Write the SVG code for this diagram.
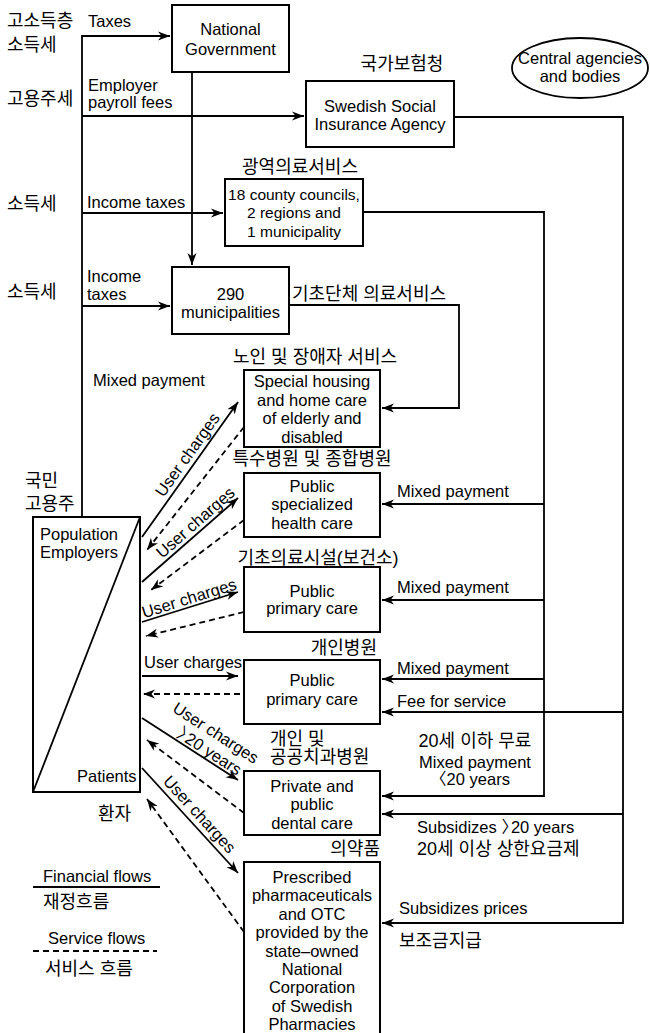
<svg xmlns="http://www.w3.org/2000/svg" width="650" height="1033" viewBox="0 0 650 1033">
<defs>
<marker id="ah" markerUnits="userSpaceOnUse" markerWidth="12" markerHeight="10" viewBox="0 0 12 10" refX="12" refY="5" orient="auto"><path d="M0,0.5 L12,5 L0,9.5 L3.5,5 z" fill="#000"/></marker>
<style>
.box{fill:#fff;stroke:#000;stroke-width:2}
.t{font-family:'Liberation Sans','Noto Sans CJK KR',sans-serif;font-size:16.5px;fill:#000}
.k{font-family:'Liberation Sans','Noto Sans CJK KR',sans-serif;font-size:18px;fill:#000}
.m{text-anchor:middle}
.e{text-anchor:end}
.ln{stroke:#000;stroke-width:1.8;fill:none}
.ar{marker-end:url(#ah)}
.dash{stroke-dasharray:6,4}
</style>
</defs>
<rect width="650" height="1033" fill="#fff"/>

<g id="connectors" class="ln">
<path class="ar" d="M82,517 V36 H170"/>
<path class="ar" d="M82,116 H304"/>
<path class="ar" d="M82,213 H223"/>
<path class="ar" d="M82,306 H170"/>
<path class="ar" d="M192,72 V265"/>
<path class="ar" d="M289,305 H459 V408 H382"/>
<path class="ar" d="M363,212 H544 V796 H382"/>
<path class="ar" d="M544,504 H382"/>
<path class="ar" d="M544,600 H382"/>
<path class="ar" d="M544,679 H382"/>
<path class="ar" d="M454,117 H623 V923 H382"/>
<path class="ar" d="M623,712 H382"/>
<path class="ar" d="M623,814 H382"/>
<path class="ar" d="M142,537 L238,402"/>
<path class="ar" d="M142,582 L238,498"/>
<path class="ar" d="M142,622 L238,592"/>
<path class="ar" d="M142,676 L238,676"/>
<path class="ar" d="M142,718 L238,780"/>
<path class="ar" d="M142,768 L238,873"/>
<path class="ar dash" d="M244,427 L147,550"/>
<path class="ar dash" d="M244,520 L151,590"/>
<path class="ar dash" d="M244,612 L146,636"/>
<path class="ar dash" d="M240,694 L143,694"/>
<path class="ar dash" d="M244,813 L147,740"/>
<path class="ar dash" d="M244,932 L147,799"/>
</g>

<g id="flow-labels">
<text class="k" x="7" y="27">고소득층</text>
<text class="k" x="7" y="51">소득세</text>
<text class="t" x="88" y="27">Taxes</text>
<text class="k" x="7" y="105">고용주세</text>
<text class="t" x="88" y="91">Employer</text>
<text class="t" x="88" y="108">payroll fees</text>
<text class="k" x="7" y="210">소득세</text>
<text class="t" x="87" y="208">Income taxes</text>
<text class="k" x="7" y="298">소득세</text>
<text class="t" x="87" y="282">Income</text>
<text class="t" x="87" y="300">taxes</text>
<text class="t" x="93" y="386">Mixed payment</text>
<text class="t m" transform="translate(192,458) rotate(-54.6)">User charges</text>
<text class="t m" transform="translate(199.1,526.7) rotate(-41.2)">User charges</text>
<text class="t m" transform="translate(190.7,603.6) rotate(-17.4)">User charges</text>
<text class="t" x="144" y="668">User charges</text>
<text class="t m" transform="translate(212.8,737.6) rotate(32.9)">User charges</text>
<text class="t m" transform="translate(206.4,756.1) rotate(32.9)">〉<tspan dx="-7">20 years</tspan></text>
<text class="t m" transform="translate(195.4,818.2) rotate(47.6)">User charges</text>
<text class="t" x="397" y="497">Mixed payment</text>
<text class="t" x="397" y="593">Mixed payment</text>
<text class="t" x="397" y="674">Mixed payment</text>
<text class="t" x="397" y="707">Fee for service</text>
<text class="k m" x="475" y="747">20세 이하 무료</text>
<text class="t m" x="475" y="768">Mixed payment</text>
<text class="t m" x="470" y="785">〈20 years</text>
<text class="t" x="417" y="833">Subsidizes 〉<tspan dx="-7">20 years</tspan></text>
<text class="k" x="417" y="855">20세 이상 상한요금제</text>
<text class="t" x="399" y="914">Subsidizes prices</text>
<text class="k" x="399" y="947">보조금지급</text>
</g>

<g id="national">
<rect class="box" x="172" y="5" width="117" height="67"/>
<text class="t m" x="230.5" y="35">National</text>
<text class="t m" x="230.5" y="55">Government</text>
</g>

<g id="ssia">
<text class="k m" x="402" y="70">국가보험청</text>
<rect class="box" x="306" y="81" width="148" height="66"/>
<text class="t m" x="380" y="112">Swedish Social</text>
<text class="t m" x="380" y="130">Insurance Agency</text>
</g>

<g id="central">
<ellipse cx="580" cy="68" rx="68" ry="30" fill="#fff" stroke="#000" stroke-width="1.8"/>
<text class="t m" x="580" y="64">Central agencies</text>
<text class="t m" x="580" y="82">and bodies</text>
</g>

<g id="county">
<text class="k m" x="300" y="173">광역의료서비스</text>
<rect class="box" x="225" y="179" width="138" height="67"/>
<text class="t m" x="294" y="200" style="font-size:15.5px">18 county councils,</text>
<text class="t m" x="294" y="218" style="font-size:15.5px">2 regions and</text>
<text class="t m" x="294" y="237" style="font-size:15.5px">1 municipality</text>
</g>

<g id="municipalities">
<rect class="box" x="172" y="267" width="117" height="67"/>
<text class="t m" x="230.5" y="300">290</text>
<text class="t m" x="230.5" y="318">municipalities</text>
<text class="k" x="292" y="300">기초단체 의료서비스</text>
</g>

<g id="population">
<rect class="box" x="33" y="517" width="107" height="275"/>
<line x1="33" y1="792" x2="140" y2="517" stroke="#000" stroke-width="1.8"/>
<text class="t" x="40" y="540">Population</text>
<text class="t" x="40" y="558">Employers</text>
<text class="t" x="77" y="782">Patients</text>
<text class="k" x="25" y="487">국민</text>
<text class="k" x="25" y="510">고용주</text>
<text class="k" x="98" y="820">환자</text>
</g>

<g id="elderly">
<text class="k m" x="315" y="363">노인 및 장애자 서비스</text>
<rect class="box" x="244" y="370" width="136" height="77"/>
<text class="t m" x="312" y="387">Special housing</text>
<text class="t m" x="312" y="406">and home care</text>
<text class="t m" x="312" y="424">of elderly and</text>
<text class="t m" x="312" y="443">disabled</text>
</g>

<g id="specialized">
<text class="k m" x="312" y="465">특수병원 및 종합병원</text>
<rect class="box" x="244" y="473" width="136" height="64"/>
<text class="t m" x="312" y="492">Public</text>
<text class="t m" x="312" y="510">specialized</text>
<text class="t m" x="312" y="529">health care</text>
</g>

<g id="primary1">
<text class="k m" x="318" y="564">기초의료시설(보건소)</text>
<rect class="box" x="244" y="567" width="136" height="65"/>
<text class="t m" x="312" y="597">Public</text>
<text class="t m" x="312" y="614">primary care</text>
</g>

<g id="primary2">
<text class="k e" x="377" y="654">개인병원</text>
<rect class="box" x="244" y="660" width="136" height="64"/>
<text class="t m" x="312" y="686">Public</text>
<text class="t m" x="312" y="705">primary care</text>
</g>

<g id="dental">
<text class="k" x="270" y="745">개인 및</text>
<text class="k" x="270" y="763">공공치과병원</text>
<rect class="box" x="244" y="771" width="136" height="64"/>
<text class="t m" x="312" y="792">Private and</text>
<text class="t m" x="312" y="810">public</text>
<text class="t m" x="312" y="829">dental care</text>
</g>

<g id="pharma">
<text class="k e" x="380" y="855">의약품</text>
<rect class="box" x="244" y="862" width="136" height="180"/>
<text class="t m" x="312" y="883">Prescribed</text>
<text class="t m" x="312" y="901">pharmaceuticals</text>
<text class="t m" x="312" y="920">and OTC</text>
<text class="t m" x="312" y="938">provided by the</text>
<text class="t m" x="312" y="957">state–owned</text>
<text class="t m" x="312" y="975">National</text>
<text class="t m" x="312" y="993">Corporation</text>
<text class="t m" x="312" y="1012">of Swedish</text>
<text class="t m" x="312" y="1030">Pharmacies</text>
</g>

<g id="legend">
<text class="t" x="43" y="882">Financial flows</text>
<line x1="33" y1="887" x2="160" y2="887" stroke="#000" stroke-width="1.8"/>
<text class="k" x="43" y="908">재정흐름</text>
<text class="t" x="48" y="944">Service flows</text>
<line x1="33" y1="951" x2="157" y2="951" stroke="#000" stroke-width="1.8" stroke-dasharray="6,4"/>
<text class="k" x="45" y="975">서비스 흐름</text>
</g>
</svg>
